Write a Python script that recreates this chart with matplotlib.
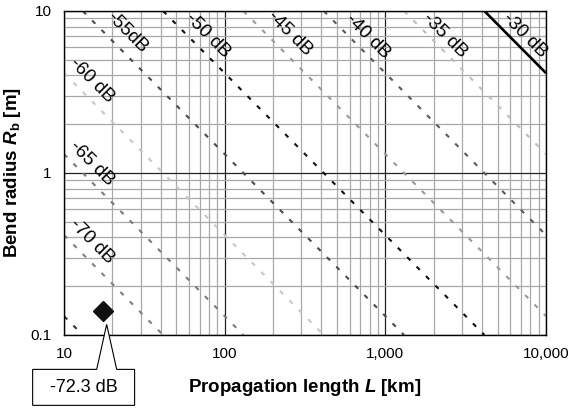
import matplotlib
matplotlib.use('Agg')
import matplotlib.pyplot as plt
import matplotlib.transforms as mtransforms
from matplotlib.patches import Polygon
from matplotlib.ticker import FixedLocator, FixedFormatter, LogLocator, NullFormatter

plt.rcParams['font.family'] = ['Liberation Sans', 'DejaVu Sans']
plt.rcParams['mathtext.fontset'] = 'custom'
plt.rcParams['mathtext.rm'] = 'Liberation Sans:bold'
plt.rcParams['mathtext.it'] = 'Liberation Sans:italic:bold'
plt.rcParams['mathtext.bf'] = 'Liberation Sans:bold'

# ---- data ----
xt_levels = [-30, -35, -40, -45, -50, -55, -60, -65, -70, -75]
line_L_start = [4137, 1308, 413.7, 130.8, 41.37, 13.08, 10, 10, 10, 10]
line_Rb_start = [10, 10, 10, 10, 10, 10, 4.137, 1.308, 0.4137, 0.1308]
line_L_end = [10000, 10000, 10000, 10000, 4137, 1308, 413.7, 130.8, 41.37, 13.08]
line_Rb_end = [4.137, 1.308, 0.4137, 0.1308, 0.1, 0.1, 0.1, 0.1, 0.1, 0.1]
line_labels = ['-30 dB', '-35 dB', '-40 dB', '-45 dB', '-50 dB', '-55dB',
               '-60 dB', '-65 dB', '-70 dB', '']
label_L = [7396, 2350, 780, 254.7, 78.7, 24.7, 14.9, 14.9, 14.9, None]
label_Rb = [7.11, 7.11, 7.01, 7.32, 7.11, 7.32, 3.75, 1.153, 0.380, None]

meas_L = [17.4]
meas_Rb = [0.14]
meas_label = '-72.3 dB'

x_ticks = [10, 100, 1000, 10000]
x_ticklabels = ['10', '100', '1,000', '10,000']
y_ticks = [0.1, 1, 10]
y_ticklabels = ['0.1', '1', '10']

# ---- styles ----
line_colors = ['#000000', '#bdbdbd', '#5a5a5a', '#9a9a9a', '#111111',
               '#4a4a4a', '#c8c8c8', '#7a7a7a', '#808080', '#333333']

fig = plt.figure(figsize=(5.68, 4.12), dpi=100)
ax = fig.add_axes([64 / 568, 77 / 412, 482 / 568, 324 / 412])
ax.set_xscale('log')
ax.set_yscale('log')
ax.set_xlim(10, 10000)
ax.set_ylim(0.1, 10)

ax.xaxis.set_major_locator(FixedLocator(x_ticks))
ax.xaxis.set_major_formatter(FixedFormatter(x_ticklabels))
ax.yaxis.set_major_locator(FixedLocator(y_ticks))
ax.yaxis.set_major_formatter(FixedFormatter(y_ticklabels))
for a in (ax.xaxis, ax.yaxis):
    a.set_minor_locator(LogLocator(base=10, subs=range(2, 10)))
    a.set_minor_formatter(NullFormatter())
ax.tick_params(which='both', length=0)
ax.tick_params(axis='x', pad=9, labelsize=11)
ax.tick_params(axis='y', pad=9, labelsize=11)

ax.set_axisbelow(True)
ax.grid(which='minor', color='#a8a8a8', lw=0.9)
ax.grid(which='major', color='#222222', lw=0.9)
for s in ax.spines.values():
    s.set_linewidth(1.0)
    s.set_color('black')

for i, lev in enumerate(xt_levels):
    xs = [line_L_start[i], line_L_end[i]]
    ys = [line_Rb_start[i], line_Rb_end[i]]
    if lev == -30:
        ax.plot(xs, ys, color=line_colors[i], lw=1.9, solid_capstyle='butt')
    else:
        ax.plot(xs, ys, color=line_colors[i], lw=1.5, ls=(0, (2.2, 4.2)))
    if line_labels[i]:
        ax.text(label_L[i], label_Rb[i], line_labels[i], rotation=-45,
                rotation_mode='anchor', ha='center', va='center',
                fontsize=13.5, color='black')

ax.plot(meas_L, meas_Rb, ls='none', marker='D', ms=10, color='#111111',
        clip_on=False, zorder=6)

# callout box (points, relative to the marker)
trans = (mtransforms.Affine2D().scale(1 / 72.) + fig.dpi_scale_trans +
         mtransforms.ScaledTranslation(meas_L[0], meas_Rb[0], ax.transData))
pts = [(-50.4, -41.8), (-4.3, -41.8), (2.9, -9.4), (10.1, -41.8),
       (23.0, -41.8), (23.0, -67.7), (-50.4, -67.7)]
poly = Polygon(pts, closed=True, fc='white', ec='black', lw=0.8,
               transform=trans, clip_on=False, zorder=7)
ax.add_patch(poly)
ax.annotate(meas_label, xy=(meas_L[0], meas_Rb[0]), xytext=(-13.7, -54.7),
            textcoords='offset points', ha='center', va='center',
            fontsize=13, annotation_clip=False, zorder=8)

ax.set_xlabel(r'Propagation length $L$ [km]', fontsize=13.5,
              fontweight='bold', labelpad=11)
ax.set_ylabel(r'Bend radius $R_\mathrm{b}$ [m]', fontsize=13.5,
              fontweight='bold', labelpad=5)

fig.savefig('out.png', dpi=100)
